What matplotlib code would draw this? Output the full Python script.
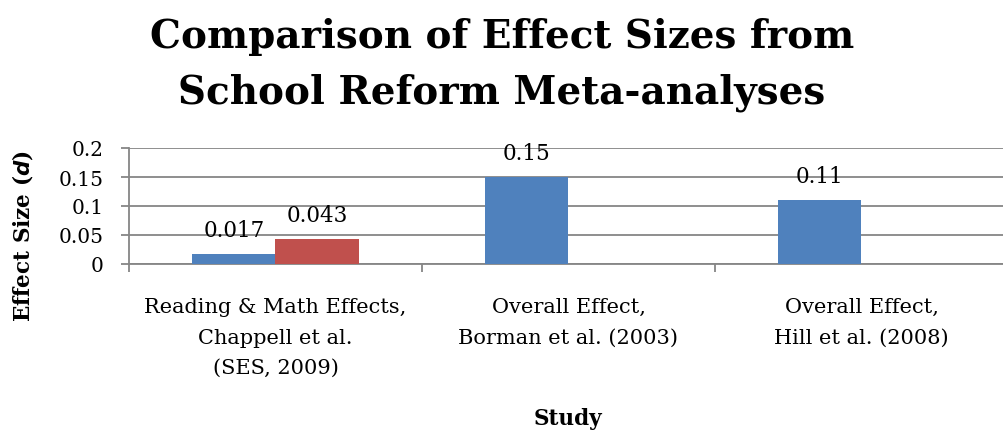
import numpy as np
import matplotlib
matplotlib.use("Agg")
import matplotlib.pyplot as plt

categories = ["Reading & Math Effects,\nChappell et al.\n(SES, 2009)",
              "Overall Effect,\nBorman et al. (2003)",
              "Overall Effect,\nHill et al. (2008)"]
series_a = [0.017, 0.15, 0.11]
series_b = [0.043, np.nan, np.nan]
labels_a = ["0.017", "0.15", "0.11"]
labels_b = ["0.043", "", ""]
yticks = [0, 0.05, 0.1, 0.15, 0.2]
ytick_labels = ["0", "0.05", "0.1", "0.15", "0.2"]
title_lines = ["Comparison of Effect Sizes from", "School Reform Meta-analyses"]

plt.rcParams["font.family"] = ["DejaVu Serif"]

W, H = 1004, 431
fig = plt.figure(figsize=(W / 100, H / 100), dpi=100)
ax = fig.add_axes([129 / W, 1 - 265 / H, 879 / W, 116 / H])

x = np.arange(len(categories))
bw = 0.284
grid_c = "#868686"

ax.bar(x - bw / 2, series_a, bw, color="#4F81BD", zorder=3)
ax.bar(x + bw / 2, series_b, bw, color="#C0504D", zorder=3)

for xi, v, t in zip(x - bw / 2, series_a, labels_a):
    ax.annotate(t, (xi, v), textcoords="offset points", xytext=(0, 13),
                ha="center", va="baseline", fontsize=15.5, zorder=4)
for xi, v, t in zip(x + bw / 2, series_b, labels_b):
    if t:
        ax.annotate(t, (xi, v), textcoords="offset points", xytext=(0, 13),
                    ha="center", va="baseline", fontsize=15.5, zorder=4)

ax.set_xlim(-0.5, 2.5)
ax.set_ylim(0, 0.2)
ax.set_yticks(yticks)
ax.set_yticklabels(ytick_labels, fontsize=14.5)
ax.yaxis.grid(True, color=grid_c, lw=1.3)
ax.set_axisbelow(True)

ax.set_xticks(x)
ax.set_xticklabels(categories, fontsize=15, linespacing=1.75)
ax.set_xticks(np.arange(-0.5, 3.0, 1.0), minor=True)
ax.tick_params(axis="x", which="major", length=0, pad=24)
ax.tick_params(axis="x", which="minor", length=6, color=grid_c, width=1.3, direction="out")
ax.tick_params(axis="y", length=6, color=grid_c, width=1.3, direction="out", pad=12)

for s in ["top", "right"]:
    ax.spines[s].set_visible(False)
for s in ["left", "bottom"]:
    ax.spines[s].set_color(grid_c)
    ax.spines[s].set_linewidth(1.3)

for line, base in zip(title_lines, [48, 103]):
    fig.text(0.5, 1 - base / H, line, ha="center", va="baseline",
             fontsize=28, fontweight="bold")
fig.text(23 / W, 1 - 236 / H, r"Effect Size ($\boldsymbol{d}$)", rotation=90,
         ha="center", va="center", fontsize=15.5, fontweight="bold")
fig.text(568 / W, 1 - 419 / H, "Study", ha="center", va="center",
         fontsize=15.5, fontweight="bold")

fig.savefig("out.png", dpi=100)
